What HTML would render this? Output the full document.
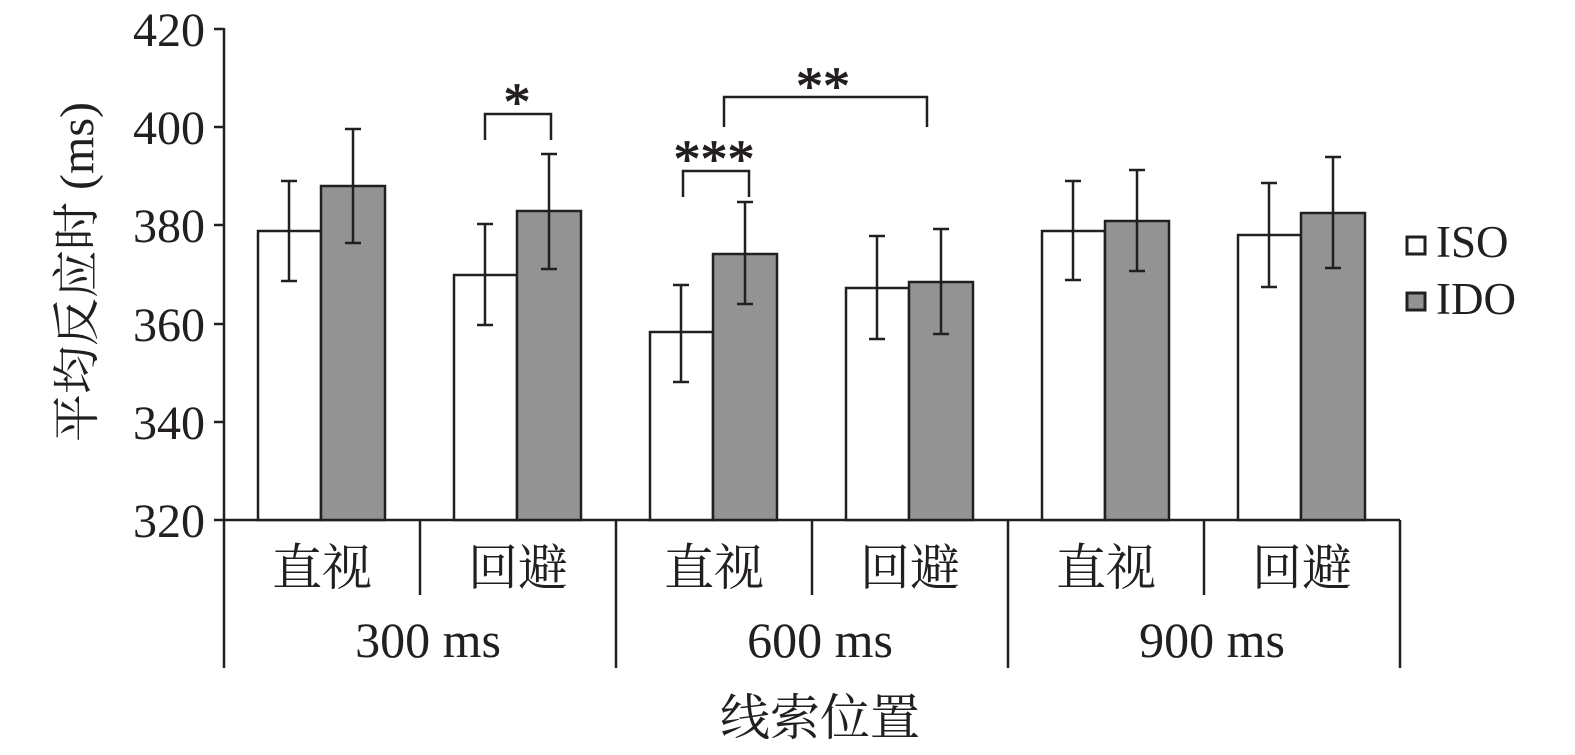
<!DOCTYPE html>
<html><head><meta charset="utf-8"><style>
html,body{margin:0;padding:0;background:#fff;}
svg{display:block;}
text{font-family:"Liberation Serif","Noto Serif CJK SC",serif;fill:#231f20;}
</style></head><body>
<svg width="1575" height="755" viewBox="0 0 1575 755" xmlns="http://www.w3.org/2000/svg">
<g stroke="#231f20" stroke-width="2.5" fill="none">
<line x1="224" y1="28" x2="224" y2="668"/>
<line x1="224" y1="520" x2="1400" y2="520"/>
<line x1="214" y1="29" x2="224" y2="29"/>
<line x1="214" y1="127" x2="224" y2="127"/>
<line x1="214" y1="225" x2="224" y2="225"/>
<line x1="214" y1="324" x2="224" y2="324"/>
<line x1="214" y1="422" x2="224" y2="422"/>
<line x1="214" y1="520" x2="224" y2="520"/>
<line x1="420" y1="520" x2="420" y2="595"/>
<line x1="812" y1="520" x2="812" y2="595"/>
<line x1="1204" y1="520" x2="1204" y2="595"/>
<line x1="616" y1="520" x2="616" y2="668"/>
<line x1="1008" y1="520" x2="1008" y2="668"/>
<line x1="1400" y1="520" x2="1400" y2="668"/>
</g>
<g stroke="#231f20" stroke-width="2.5">
<rect x="258" y="231" width="63" height="289" fill="#fff"/>
<rect x="321" y="186" width="64" height="334" fill="#939393"/>
<rect x="454" y="275" width="63" height="245" fill="#fff"/>
<rect x="517" y="211" width="64" height="309" fill="#939393"/>
<rect x="650" y="332" width="63" height="188" fill="#fff"/>
<rect x="713" y="254" width="64" height="266" fill="#939393"/>
<rect x="846" y="288" width="63" height="232" fill="#fff"/>
<rect x="909" y="282" width="64" height="238" fill="#939393"/>
<rect x="1042" y="231" width="63" height="289" fill="#fff"/>
<rect x="1105" y="221" width="64" height="299" fill="#939393"/>
<rect x="1238" y="235" width="63" height="285" fill="#fff"/>
<rect x="1301" y="213" width="64" height="307" fill="#939393"/>
</g>
<g stroke="#231f20" stroke-width="2.5" fill="none">
<path d="M289 181V281M281 181H297M281 281H297"/>
<path d="M353 129V243M345 129H361M345 243H361"/>
<path d="M485 224V325M477 224H493M477 325H493"/>
<path d="M549 154V269M541 154H557M541 269H557"/>
<path d="M681 285V382M673 285H689M673 382H689"/>
<path d="M745 202V304M737 202H753M737 304H753"/>
<path d="M877 236V339M869 236H885M869 339H885"/>
<path d="M941 229V334M933 229H949M933 334H949"/>
<path d="M1073 181V280M1065 181H1081M1065 280H1081"/>
<path d="M1137 170V271M1129 170H1145M1129 271H1145"/>
<path d="M1269 183V287M1261 183H1277M1261 287H1277"/>
<path d="M1333 157V268M1325 157H1341M1325 268H1341"/>
<path d="M485 140V114H551V140"/>
<path d="M683 197V171H749V197"/>
<path d="M724 127V97H927V127"/>
<rect x="1407" y="237" width="18" height="17" fill="#fff" stroke-width="3"/>
<rect x="1407" y="293" width="18" height="17" fill="#939393" stroke-width="3"/>
</g>
<g font-size="54" text-anchor="middle" stroke="#231f20" stroke-width="1">
<text x="517" y="120">*</text>
<text x="714" y="177">***</text>
<text x="823" y="104">**</text>
</g>
<g font-size="48" text-anchor="end">
<text x="205" y="46">420</text>
<text x="205" y="144">400</text>
<text x="205" y="242">380</text>
<text x="205" y="341">360</text>
<text x="205" y="439">340</text>
<text x="205" y="537">320</text>
</g>
<g font-size="45">
<text x="1436" y="257">ISO</text>
<text x="1436" y="314">IDO</text>
</g>
<g font-size="50" text-anchor="middle">
<text x="322" y="585">直视</text>
<text x="518" y="585">回避</text>
<text x="714" y="585">直视</text>
<text x="910" y="585">回避</text>
<text x="1106" y="585">直视</text>
<text x="1302" y="585">回避</text>
<text x="428" y="657">300 ms</text>
<text x="820" y="657">600 ms</text>
<text x="1212" y="657">900 ms</text>
<text x="820" y="735">线索位置</text>
</g>
<text font-size="48" text-anchor="middle" transform="translate(93,272) rotate(-90)">平均反应时 (ms)</text>
</svg>
</body></html>
